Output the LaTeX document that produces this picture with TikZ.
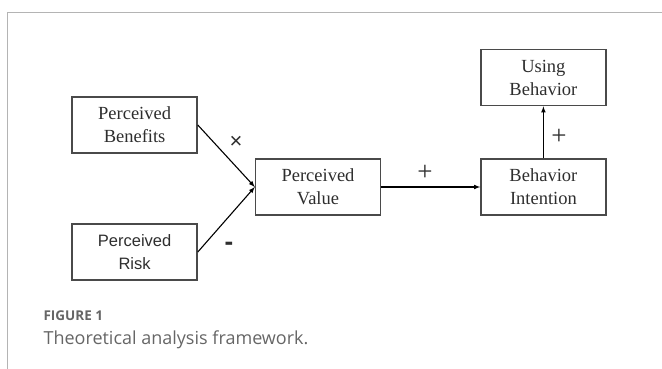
\documentclass[tikz,border=0pt]{standalone}
\usepackage{fontspec}
\setmainfont{Liberation Serif}
\newfontfamily\risksans{Liberation Sans}
\newfontfamily\captionsans{Open Sans}
\usepackage{xcolor}
\usepackage{tikz}
\usetikzlibrary{positioning}

\definecolor{boxline}{HTML}{4A4A4A}
\definecolor{boxtext}{HTML}{2E2E2E}
\definecolor{framegray}{HTML}{B4B4B4}
\definecolor{capgray}{HTML}{666666}

\begin{document}
\begin{tikzpicture}[x=1pt, y=1pt, >=latex, line width=1.1pt]
    \tikzstyle{factor} = [rectangle, minimum width=125pt, minimum height=56pt, text centered, align=center, draw=boxline, line width=1.4pt, text=boxtext, font=\fontsize{18.5}{23}\selectfont]
    \tikzstyle{sign} = [inner sep=0pt, text=boxtext]

    \useasboundingbox (-318,187) rectangle (344,-182);

    % Frame
    \draw [framegray, line width=0.8pt] (344,175) -- (-311,175) -- (-311,-182);

    % Factors
    \node [factor] (value) {Perceived\\Value};
    \node [factor, left=57pt of value, yshift=62pt] (benefits) {Perceived\\Benefits};
    \node [factor, left=57pt of value, yshift=-65pt, font=\risksans\fontsize{16.5}{23}\selectfont] (risk) {Perceived\\Risk};
    \node [factor, right=99pt of value] (intention) {Behavior\\Intention};
    \node [factor, above=52pt of intention] (using) {Using\\Behavior};

    % Connections
    \draw [->] (benefits.east) -- (value.west);
    \draw [->] (risk.east) -- (value.west);
    \draw [->] (value) -- (intention);
    \draw [->] (intention) -- (using);

    % Signs
    \node [sign, font=\risksans\fontsize{22}{22}\selectfont] (times) at (-82,45) {×};
    \node [sign, font=\risksans\bfseries\fontsize{26}{26}\selectfont] (minus) at (-89,-59) {-};
    \node [sign, font=\fontsize{27}{27}\selectfont] (plusa) at (107,14) {+};
    \node [sign, font=\fontsize{27}{27}\selectfont] (plusb) at (241,50) {+};

    % Caption
    \node [anchor=base west, inner sep=0pt, text=capgray, font=\captionsans\bfseries\fontsize{13.5}{14}\selectfont] (fignum) at (-275,-134) {FIGURE 1};
    \node [anchor=base west, inner sep=0pt, text=capgray, font=\captionsans\fontsize{18}{20}\selectfont] (figtext) at (-275,-158) {Theoretical analysis framework.};
\end{tikzpicture}
\end{document}
